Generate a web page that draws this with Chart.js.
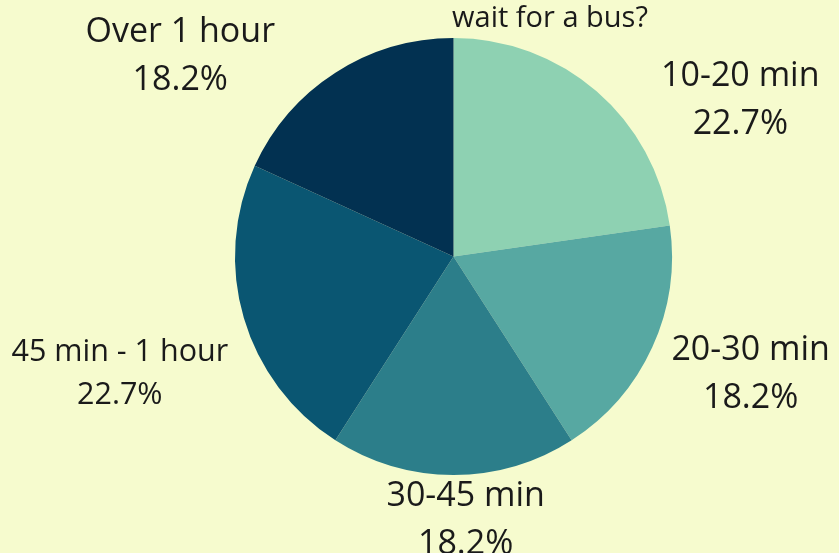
<!DOCTYPE html>
<html>
<head>
<meta charset="utf-8">
<script src="https://cdn.jsdelivr.net/npm/chart.js@4"></script>
<style>
  html, body { margin: 0; padding: 0; background: #f6fbce; }
  #wrap { width: 839px; height: 553px; position: relative; }
</style>
</head>
<body>
<div id="wrap"><canvas id="busChart"></canvas></div>
<script>
"use strict";

// Survey answers: how long people wait for a bus
const waitTimes = ["10-20 min", "20-30 min", "30-45 min", "45 min - 1 hour", "Over 1 hour"];
const responses = [5, 4, 4, 5, 4];
const titleText = "wait for a bus?";

const sliceColors = ["#8ed1b2", "#57a8a2", "#2c7e8a", "#0a5672", "#023151"];

// Draws "name / percent" labels outside each slice, anchored on the arc middle
const outsideLabels = {
    id: "outsideLabels",
    afterDatasetsDraw(chart, args, opts) {
        const ctx = chart.ctx;
        const meta = chart.getDatasetMeta(0);
        const values = chart.data.datasets[0].data;
        const total = values.reduce((a, b) => a + b, 0);

        ctx.save();
        ctx.fillStyle = opts.color;
        ctx.textAlign = "center";
        ctx.textBaseline = "middle";
        meta.data.forEach((arc, i) => {
            const p = arc.getProps(["x", "y", "startAngle", "endAngle", "outerRadius"], true);
            const mid = (p.startAngle + p.endAngle) / 2;
            const ax = p.x + Math.cos(mid) * p.outerRadius;
            const ay = p.y + Math.sin(mid) * p.outerRadius;
            const a = opts.align[i] * Math.PI / 180;
            const cx = ax + Math.cos(a) * opts.offset[i];
            const cy = ay + Math.sin(a) * opts.offset[i];
            const size = opts.size[i];
            const lh = size * 1.4;
            const pct = (values[i] / total * 100).toFixed(1) + "%";

            ctx.font = size + "px 'Open Sans'";
            ctx.fillText(chart.data.labels[i], cx, cy - lh / 2);
            ctx.fillText(pct, cx, cy + lh / 2);
        });
        ctx.restore();
    }
};

// Only the last line of the title is visible in the frame
const titleLine = {
    id: "titleLine",
    afterDraw(chart, args, opts) {
        const ctx = chart.ctx;
        ctx.save();
        ctx.fillStyle = opts.color;
        ctx.font = opts.size + "px 'Open Sans'";
        ctx.textAlign = "center";
        ctx.textBaseline = "alphabetic";
        ctx.fillText(opts.text, opts.x, opts.y);
        ctx.restore();
    }
};

const ctx = document.getElementById("busChart").getContext("2d");

new Chart(ctx, {
    type: "pie",
    data: {
        labels: waitTimes,
        datasets: [{
            data: responses,
            backgroundColor: sliceColors,
            borderWidth: 0
        }]
    },
    options: {
        responsive: true,
        maintainAspectRatio: false,
        animation: false,
        events: [],
        layout: {
            padding: { left: 235, right: 167, top: 38, bottom: 78 }
        },
        plugins: {
            legend: { display: false },
            tooltip: { enabled: false },
            outsideLabels: {
                color: "#1a1a1a",
                size: [34, 34, 34, 30.5, 34],
                align: [3.5, 15.3, 75, 155.8, 186.1],
                offset: [144, 102, 47, 136, 156]
            },
            titleLine: {
                text: titleText,
                color: "#1a1a1a",
                size: 29,
                x: 550,
                y: 27
            }
        }
    },
    plugins: [outsideLabels, titleLine]
});
</script>
</body>
</html>
